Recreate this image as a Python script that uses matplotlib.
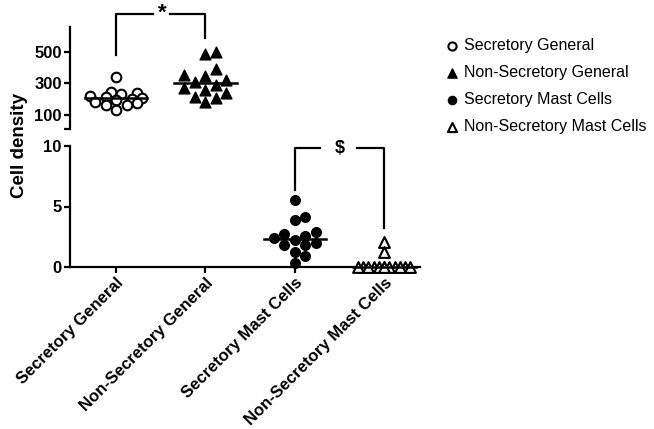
import numpy as np
import matplotlib
matplotlib.use("Agg")
import matplotlib.pyplot as plt

plt.rcParams['font.family'] = ['Liberation Sans', 'DejaVu Sans']

groups = ['Secretory General', 'Non-Secretory General',
          'Secretory Mast Cells', 'Non-Secretory Mast Cells']

sec_general = [340, 245, 240, 230, 220, 215, 210, 200, 195, 185, 175, 165, 160, 130]
nonsec_general = [500, 487, 392, 348, 354, 322, 310, 290, 271, 259, 240, 214, 208, 183]
sec_mast = [5.5, 4.1, 3.9, 2.9, 2.7, 2.6, 2.4, 2.2, 2.0, 1.8, 1.8, 1.2, 0.9, 0.3]
nonsec_mast = [2.1, 1.2, 0, 0, 0, 0, 0, 0, 0, 0, 0, 0, 0, 0]

yticks_top = [100, 300, 500]
yticks_bot = [0, 5, 10]


def swarm(ax, xc, vals, diam=10.5, cap=30.0):
    # simple beeswarm in pixel space so points spread like GraphPad
    pts = ax.transData.transform(np.column_stack([np.full(len(vals), xc), vals]))
    order = np.argsort(vals)
    step = diam / 2
    cands = [0.0]
    k = 1
    while k * step <= cap:
        cands += [k * step, -k * step]
        k += 1
    placed = []
    out = np.zeros(len(vals))
    for i in order:
        py = pts[i, 1]
        best, bestd = None, -1
        for c in cands:
            px = pts[i, 0] + c
            d = min([np.hypot(px - qx, py - qy) for qx, qy in placed] or [1e9])
            if d >= diam:
                best = c
                break
            if d > bestd:
                best, bestd = c, d
        placed.append((pts[i, 0] + best, py))
        out[i] = best
    xs = ax.transData.inverted().transform(
        np.column_stack([pts[:, 0] + out, pts[:, 1]]))[:, 0]
    return xs


fig = plt.figure(figsize=(6.54, 4.29), dpi=100)
L, W = 70 / 654, 350 / 654
ax_top = fig.add_axes([L, 1 - 129 / 429, W, 102 / 429])
ax_bot = fig.add_axes([L, 1 - 267 / 429, W, 121 / 429])

xlim = (-0.515, 3.4)
for ax in (ax_top, ax_bot):
    ax.set_xlim(*xlim)
    ax.patch.set_alpha(0)
    for s in ['top', 'right']:
        ax.spines[s].set_visible(False)
    for s in ['left', 'bottom']:
        ax.spines[s].set_linewidth(1.6)
    ax.tick_params(width=1.6, length=4, labelsize=12, pad=2)

ax_top.set_ylim(10, 660)
ax_bot.set_ylim(0, 10)
ax_top.spines['bottom'].set_visible(False)
ax_top.set_xticks([])
ax_top.set_yticks([10] + yticks_top)
ax_top.set_yticklabels([''] + [str(t) for t in yticks_top])
ax_top.spines['left'].set_bounds(10, 660)
ax_bot.set_yticks(yticks_bot)
ax_bot.set_xticks(range(4))
ax_bot.set_xticklabels(groups, rotation=45, ha='right', rotation_mode='anchor',
                       fontsize=12)
for ax in (ax_top, ax_bot):
    for lab in ax.get_xticklabels() + ax.get_yticklabels():
        lab.set_fontweight('bold')

fig.canvas.draw()

ms = 48
h1 = ax_top.scatter(swarm(ax_top, 0, sec_general), sec_general, s=ms, marker='o',
                    facecolors='white', edgecolors='black', linewidths=1.5,
                    label=groups[0], zorder=3, clip_on=False)
h2 = ax_top.scatter(swarm(ax_top, 1, nonsec_general), nonsec_general, s=60, marker='^',
                    color='black', label=groups[1], zorder=3, clip_on=False)
h3 = ax_bot.scatter(swarm(ax_bot, 2, sec_mast), sec_mast, s=ms, marker='o',
                    color='black', label=groups[2], zorder=3, clip_on=False)
h4 = ax_bot.scatter(swarm(ax_bot, 3, nonsec_mast), nonsec_mast, s=60, marker='^',
                    facecolors='white', edgecolors='black', linewidths=1.5,
                    label=groups[3], zorder=3, clip_on=False)

# median lines
for ax, xc, vals in [(ax_top, 0, sec_general), (ax_top, 1, nonsec_general),
                     (ax_bot, 2, sec_mast), (ax_bot, 3, nonsec_mast)]:
    m = np.median(vals)
    ax.plot([xc - 0.35, xc + 0.35], [m, m], color='black', lw=1.8, zorder=4,
            clip_on=False)

# significance brackets
ax_top.plot([0, 0, 0.41], [480, 745, 745], color='black', lw=1.6, clip_on=False)
ax_top.plot([0.6, 1, 1], [745, 745, 590], color='black', lw=1.6, clip_on=False)
ax_top.text(0.52, 745, '*', ha='center', va='center', fontsize=16, fontweight='bold')
ax_bot.plot([2, 2, 2.28], [6.4, 9.8, 9.8], color='black', lw=1.6, clip_on=False)
ax_bot.plot([2.7, 3, 3], [9.8, 9.8, 3.2], color='black', lw=1.6, clip_on=False)
ax_bot.text(2.5, 9.8, '$', ha='center', va='center', fontsize=13, fontweight='bold')

fig.text(20 / 654, 1 - 145 / 429, 'Cell density', rotation=90, ha='center',
         va='center', fontsize=13.5, fontweight='bold')

leg = fig.legend(handles=[h1, h2, h3, h4], loc='upper left',
                 bbox_to_anchor=(438 / 654, 1 - 32 / 429), frameon=False,
                 fontsize=11.5, handletextpad=0.35, labelspacing=0.75,
                 handlelength=0.9, markerscale=0.85, borderaxespad=0)

fig.savefig('out.png', dpi=100)
